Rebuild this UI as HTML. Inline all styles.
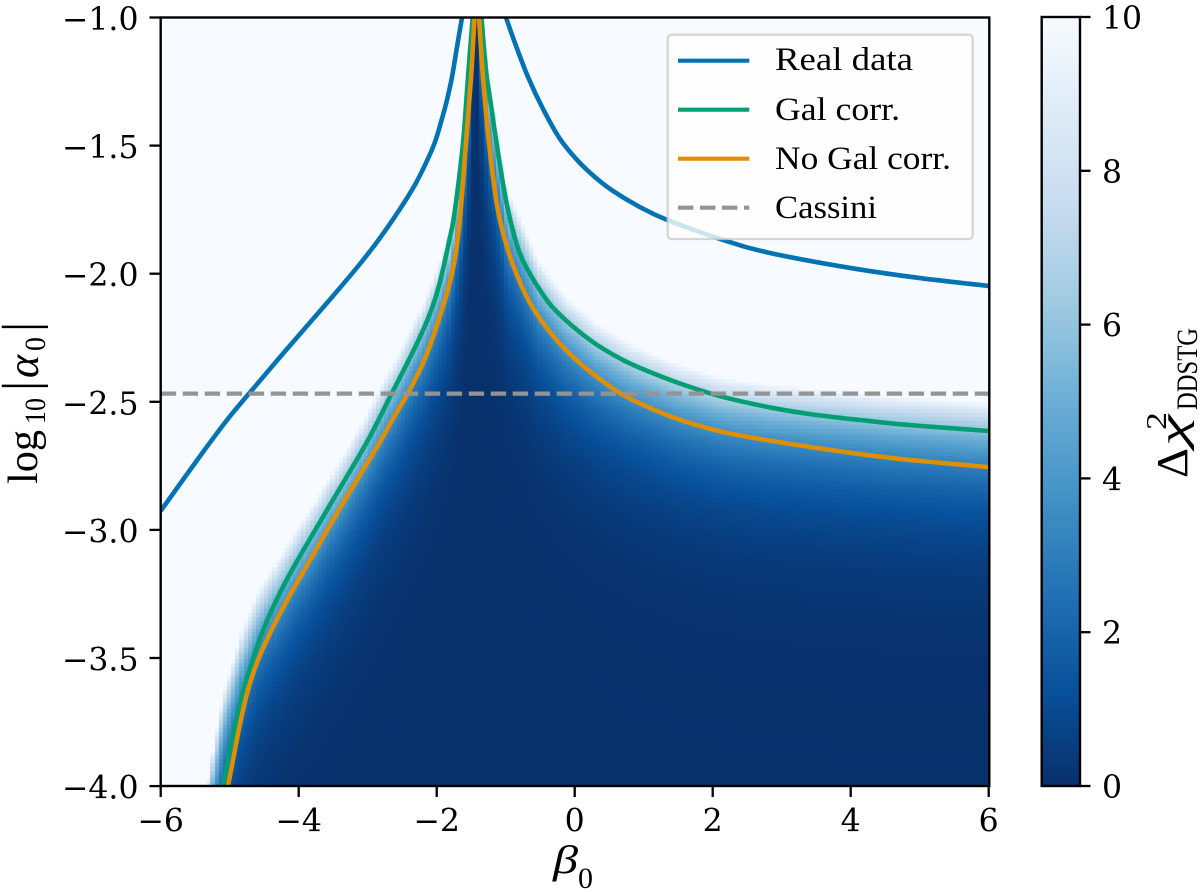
<!DOCTYPE html>
<html lang="en">
<head>
<meta charset="utf-8">
<title>Delta chi-squared map of log10 alpha0 against beta0</title>
<style>
html,body{margin:0;padding:0;background:#fff;width:1200px;height:892px;overflow:hidden}
#heatmap,#chart{position:absolute;left:0;top:0;display:block}
.tick{font-family:"DejaVu Serif","Liberation Serif",serif;font-size:31.5px;fill:#000}
.tex{font-family:"Liberation Serif",serif;fill:#000}
.texi{font-family:"Liberation Serif",serif;font-style:italic;fill:#000}
</style>
</head>
<body>
<canvas id="heatmap" width="1200" height="892"></canvas>
<svg id="chart" width="1200" height="892" viewBox="0 0 1200 892" xmlns="http://www.w3.org/2000/svg">
  <defs>
    <clipPath id="plot-clip"><rect x="160.7" y="17.5" width="828.6" height="768.5"/></clipPath>
    <linearGradient id="cbar-gradient" x1="0" y1="1" x2="0" y2="0"></linearGradient>
  </defs>
  <g id="series-layer" clip-path="url(#plot-clip)"></g>
  <rect x="160.7" y="17.5" width="828.6" height="768.5" fill="none" stroke="#000" stroke-width="2.4"/>
  <g id="tick-layer"></g>

  <g>
    <rect x="667.7" y="34.7" width="305" height="204.3" rx="4" ry="4" fill="#fff" fill-opacity="0.8" stroke="#ccc" stroke-opacity="0.8" stroke-width="2.3"/>
    <line x1="678" x2="749.3" y1="60.7" y2="60.7" stroke="#0173b2" stroke-width="4.2"/>
    <line x1="678" x2="749.3" y1="109.7" y2="109.7" stroke="#029e73" stroke-width="4.2"/>
    <line x1="678" x2="749.3" y1="158.7" y2="158.7" stroke="#de8f05" stroke-width="4.2"/>
    <line x1="678" x2="749.3" y1="207.7" y2="207.7" stroke="#949494" stroke-width="4.2" stroke-dasharray="15.4 6.6"/>
    <text class="tex" x="775" y="70" font-size="33" textLength="138" lengthAdjust="spacingAndGlyphs">Real data</text>
    <text class="tex" x="775" y="120" font-size="33" textLength="125" lengthAdjust="spacingAndGlyphs">Gal corr.</text>
    <text class="tex" x="775" y="169" font-size="33" textLength="176" lengthAdjust="spacingAndGlyphs">No Gal corr.</text>
    <text class="tex" x="775" y="218" font-size="33" textLength="102" lengthAdjust="spacingAndGlyphs">Cassini</text>
  </g>

  <g>
    <text class="texi" x="553" y="873" font-size="40" textLength="25" lengthAdjust="spacingAndGlyphs">β</text>
    <text class="tex" x="578" y="888" font-size="30" textLength="15" lengthAdjust="spacingAndGlyphs">0</text>
  </g>

  <g>
    <text class="tex" transform="translate(37,484) rotate(-90)" font-size="42" textLength="54" lengthAdjust="spacingAndGlyphs">log</text>
    <text class="tex" transform="translate(45,424) rotate(-90)" font-size="30" textLength="26" lengthAdjust="spacingAndGlyphs">10</text>
    <text class="tex" transform="translate(37,391) rotate(-90)" font-size="51">|</text>
    <text class="texi" transform="translate(38,378) rotate(-90)" font-size="44">α</text>
    <text class="tex" transform="translate(45,351) rotate(-90)" font-size="30" textLength="14" lengthAdjust="spacingAndGlyphs">0</text>
    <text class="tex" transform="translate(37,332) rotate(-90)" font-size="51">|</text>
  </g>

  <rect x="1041.7" y="17" width="38.3" height="769" fill="url(#cbar-gradient)"/>
  <rect x="1041.7" y="17" width="38.3" height="769" fill="none" stroke="#000" stroke-width="2.4"/>
  <g>
    <text class="tex" transform="translate(1187,478) rotate(-90)" font-size="44" textLength="30" lengthAdjust="spacingAndGlyphs">Δ</text>
    <text class="texi" transform="translate(1186,446) rotate(-90)" font-size="38" textLength="31" lengthAdjust="spacingAndGlyphs">χ</text>
    <text class="tex" transform="translate(1166,430) rotate(-90)" font-size="28" textLength="18" lengthAdjust="spacingAndGlyphs">2</text>
    <text class="tex" transform="translate(1197,410) rotate(-90)" font-size="30" textLength="82" lengthAdjust="spacingAndGlyphs">DDSTG</text>
  </g>
</svg>
<script>
// ---- chart data (beta0, log10|alpha0|) ----
const xTicks = [-6, -4, -2, 0, 2, 4, 6];
const yTicks = [-1.0, -1.5, -2.0, -2.5, -3.0, -3.5, -4.0];
const cbarTicks = [0, 2, 4, 6, 8, 10];

const realLeftBeta = [-6.0, -5.43, -5.039, -4.749, -4.17, -3.503, -3.068, -2.72, -2.358, -2.17, -2.025, -1.909, -1.851, -1.778, -1.706, -1.633];
const realLeftLogAlpha = [-2.926, -2.712, -2.571, -2.477, -2.294, -2.087, -1.947, -1.822, -1.673, -1.576, -1.486, -1.381, -1.322, -1.232, -1.115, -1.0];
const realRightBeta = [-0.996, -0.865, -0.677, -0.459, -0.213, 0.048, 0.294, 0.555, 0.946, 1.338, 2.149, 2.83, 4.004, 5.004, 6.004];
const realRightLogAlpha = [-1.0, -1.1, -1.232, -1.357, -1.474, -1.56, -1.623, -1.677, -1.74, -1.79, -1.868, -1.919, -1.978, -2.017, -2.048];

const galLeftBeta = [-5.097, -5.025, -4.923, -4.807, -4.677, -4.503, -4.271, -4.039, -3.503, -3.01, -2.677, -2.242, -1.996, -1.807, -1.735, -1.619, -1.546, -1.478];
const galLeftLogAlpha = [-4.0, -3.898, -3.762, -3.633, -3.516, -3.383, -3.246, -3.129, -2.883, -2.657, -2.481, -2.247, -2.075, -1.857, -1.751, -1.49, -1.232, -1.0];
const galRightBeta = [-1.351, -1.286, -1.213, -1.133, -1.01, -0.88, -0.749, -0.503, -0.257, 0.222, 0.7, 1.193, 1.671, 2.149, 2.83, 3.41, 4.134, 4.859, 6.004];
const galRightLogAlpha = [-1.0, -1.205, -1.342, -1.49, -1.693, -1.849, -1.95, -2.064, -2.149, -2.259, -2.337, -2.395, -2.442, -2.481, -2.522, -2.548, -2.571, -2.591, -2.614];

const noGalLeftBeta = [-5.025, -4.952, -4.851, -4.735, -4.59, -4.372, -4.126, -3.836, -3.358, -2.865, -2.604, -2.416, -2.199, -2.054, -1.851, -1.735, -1.662, -1.575, -1.502, -1.452];
const noGalLeftLogAlpha = [-4.0, -3.898, -3.758, -3.625, -3.508, -3.379, -3.254, -3.118, -2.895, -2.676, -2.552, -2.466, -2.349, -2.247, -2.075, -1.939, -1.779, -1.49, -1.232, -1.0];
const noGalRightBeta = [-1.387, -1.329, -1.242, -1.126, -1.01, -0.865, -0.648, -0.358, -0.025, 0.323, 0.7, 1.193, 1.627, 2.149, 2.685, 3.41, 4.134, 4.859, 6.004];
const noGalRightLogAlpha = [-1.0, -1.232, -1.49, -1.732, -1.868, -1.986, -2.114, -2.228, -2.325, -2.403, -2.473, -2.536, -2.579, -2.618, -2.645, -2.676, -2.704, -2.727, -2.755];

const cassiniLogAlpha = [-2.468];

// Outline of the heatmap: where the colour reaches the top of the scale (value 10) in each column.
const limitBeta = [-6.0, -5.327, -5.24, -5.097, -4.807, -4.604, -4.314, -3.735, -3.257, -3.068, -2.822, -2.532, -2.199, -1.952, -1.807, -1.706, -1.633, -1.561, -1.503, -1.423, -1.343, -1.242, -1.083, -0.967, -0.691, -0.503, -0.112, 0.323, 0.801, 1.483, 2.149, 2.83, 4.4, 5.99];
const limitLogAlpha = [-4.6, -4.0, -3.84, -3.637, -3.379, -3.246, -3.118, -2.872, -2.661, -2.571, -2.442, -2.298, -2.114, -1.947, -1.818, -1.634, -1.49, -1.232, -1.0, 0.2, -1.0, -1.232, -1.49, -1.673, -1.841, -1.958, -2.091, -2.192, -2.27, -2.349, -2.403, -2.43, -2.469, -2.501];

const heatColumns = 200;
const heatRows = 200;
const colorMax = 10;
const blues = ['#08306b', '#08519c', '#2171b5', '#4292c6', '#6baed6', '#9ecae1', '#c6dbef', '#deebf7', '#f7fbff'];

// ---- axis functions ----
function xScale(b) { return 160.7 + (b + 6) * 69; }
function yScale(a) { return 17.5 + (-1 - a) * 256.2; }
function cbarScale(v) { return 786 - v * 76.9; }

const SVGNS = 'http://www.w3.org/2000/svg';
function make(tag, attrs, parent) {
  const el = document.createElementNS(SVGNS, tag);
  for (const k in attrs) el.setAttribute(k, attrs[k]);
  parent.appendChild(el);
  return el;
}
function hexToRgb(h) {
  return [parseInt(h.slice(1, 3), 16), parseInt(h.slice(3, 5), 16), parseInt(h.slice(5, 7), 16)];
}
const bluesRgb = blues.map(hexToRgb);
function colorFor(v) {
  const t = Math.max(0, Math.min(1, v / colorMax)) * (bluesRgb.length - 1);
  const i = Math.min(bluesRgb.length - 2, Math.floor(t));
  const f = t - i;
  const a = bluesRgb[i], b = bluesRgb[i + 1];
  return 'rgb(' + Math.round(a[0] + (b[0] - a[0]) * f) + ',' + Math.round(a[1] + (b[1] - a[1]) * f) + ',' + Math.round(a[2] + (b[2] - a[2]) * f) + ')';
}
function lookup(xs, ys, x) {
  if (x <= xs[0]) return ys[0];
  for (let i = 1; i < xs.length; i++) {
    if (x <= xs[i]) return ys[i - 1] + (ys[i] - ys[i - 1]) * (x - xs[i - 1]) / (xs[i] - xs[i - 1]);
  }
  return ys[ys.length - 1];
}

// ---- heatmap cells ----
const ctx = document.getElementById('heatmap').getContext('2d');
for (let c = 0; c < heatColumns; c++) {
  const b0 = -6 + c * 12 / heatColumns, b1 = -6 + (c + 1) * 12 / heatColumns;
  const limit = lookup(limitBeta, limitLogAlpha, (b0 + b1) / 2);
  const px0 = Math.round(xScale(b0)), px1 = Math.round(xScale(b1));
  for (let r = 0; r < heatRows; r++) {
    const a0 = -4 + r * 3 / heatRows, a1 = -4 + (r + 1) * 3 / heatRows;
    const value = colorMax * Math.pow(10, 2 * ((a0 + a1) / 2 - limit));
    const py0 = Math.round(yScale(a1)), py1 = Math.round(yScale(a0));
    ctx.fillStyle = colorFor(value);
    ctx.fillRect(px0, py0, px1 - px0, py1 - py0);
  }
}

// ---- colorbar gradient ----
const cbarGradient = document.getElementById('cbar-gradient');
blues.forEach(function (col, i) {
  make('stop', { offset: i / (blues.length - 1), 'stop-color': col }, cbarGradient);
});

// ---- curves ----
function smoothPath(bs, as) {
  const p = bs.map(function (b, i) { return [xScale(b), yScale(as[i])]; });
  let d = 'M' + p[0][0].toFixed(2) + ' ' + p[0][1].toFixed(2);
  for (let i = 0; i < p.length - 1; i++) {
    const p0 = p[Math.max(0, i - 1)], p1 = p[i], p2 = p[i + 1], p3 = p[Math.min(p.length - 1, i + 2)];
    const c1x = p1[0] + (p2[0] - p0[0]) / 6, c1y = p1[1] + (p2[1] - p0[1]) / 6;
    const c2x = p2[0] - (p3[0] - p1[0]) / 6, c2y = p2[1] - (p3[1] - p1[1]) / 6;
    d += 'C' + c1x.toFixed(2) + ' ' + c1y.toFixed(2) + ' ' + c2x.toFixed(2) + ' ' + c2y.toFixed(2) + ' ' + p2[0].toFixed(2) + ' ' + p2[1].toFixed(2);
  }
  return d;
}
const seriesLayer = document.getElementById('series-layer');
function addCurve(bs, as, color, name) {
  const el = make('path', { d: smoothPath(bs, as), fill: 'none', stroke: color, 'stroke-width': 4.6, 'stroke-linejoin': 'round' }, seriesLayer);
  
  
}
addCurve(realLeftBeta, realLeftLogAlpha, '#0173b2', 'real-data-curve-left');
addCurve(realRightBeta, realRightLogAlpha, '#0173b2', 'real-data-curve-right');
addCurve(galLeftBeta, galLeftLogAlpha, '#029e73', 'gal-corr-curve-left');
addCurve(galRightBeta, galRightLogAlpha, '#029e73', 'gal-corr-curve-right');
addCurve(noGalLeftBeta, noGalLeftLogAlpha, '#de8f05', 'no-gal-corr-curve-left');
addCurve(noGalRightBeta, noGalRightLogAlpha, '#de8f05', 'no-gal-corr-curve-right');

const cassiniLine = make('line', { x1: xScale(-6), x2: xScale(6), y1: yScale(cassiniLogAlpha[0]), y2: yScale(cassiniLogAlpha[0]), stroke: '#949494', 'stroke-width': 4.2, 'stroke-dasharray': '15.4 6.6' }, seriesLayer);



// ---- ticks and tick labels ----
const tickLayer = document.getElementById('tick-layer');
function minus(s) { return s.replace('-', '\u2212'); }

xTicks.forEach(function (v) {
  const x = xScale(v);
  const t = make('line', { x1: x, x2: x, y1: 786, y2: 797, stroke: '#000', 'stroke-width': 2.3 }, tickLayer);
  
  
  const l = make('text', { x: x, y: 831.5, 'text-anchor': 'middle', class: 'tick' }, tickLayer);
  l.textContent = minus(String(v));
  
  
});
yTicks.forEach(function (v) {
  const y = yScale(v);
  const t = make('line', { x1: 149.5, x2: 160.7, y1: y, y2: y, stroke: '#000', 'stroke-width': 2.3 }, tickLayer);
  
  
  const l = make('text', { x: 138.5, y: y + 12.5, 'text-anchor': 'end', class: 'tick' }, tickLayer);
  l.textContent = minus(v.toFixed(1));
  
  
});
cbarTicks.forEach(function (v) {
  const y = cbarScale(v);
  const t = make('line', { x1: 1080, x2: 1090.5, y1: y, y2: y, stroke: '#000', 'stroke-width': 2.3 }, tickLayer);
  
  
  const l = make('text', { x: 1102, y: y + 12, class: 'tick' }, tickLayer);
  l.textContent = String(v);
  
  
});
</script>
</body>
</html>
